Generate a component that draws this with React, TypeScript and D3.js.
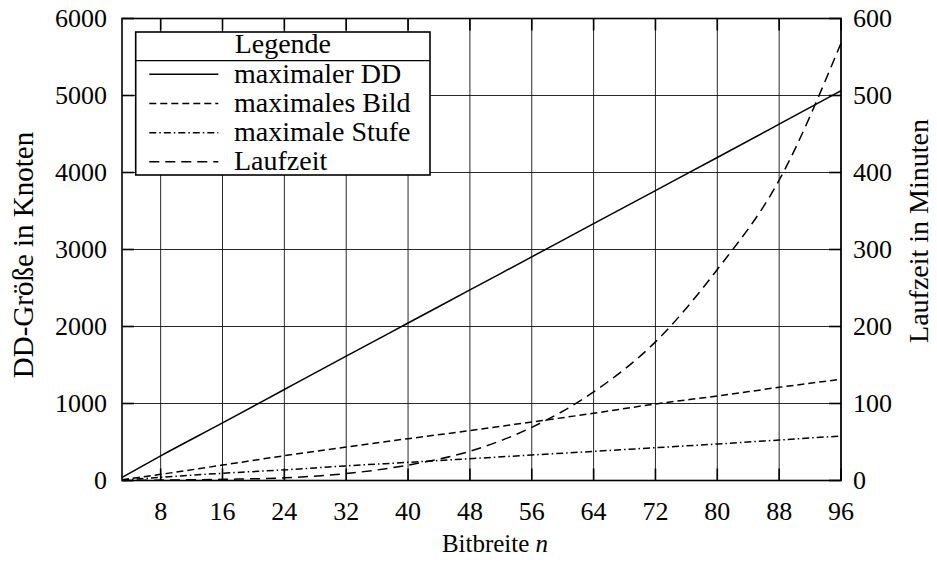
import React, { useEffect } from "react";
import * as d3 from "d3";

const bitwidths = [3, 8, 16, 24, 32, 40, 48, 56, 64, 72, 80, 88, 96];
const maxDD = [40, 320, 748, 1182, 1615, 2045, 2475, 2905, 3335, 3765, 4195, 4628, 5062];
const maxBild = [10, 80, 200, 322, 435, 543, 648, 760, 873, 994, 1097, 1210, 1314];
const maxStufe = [5, 42, 94, 138, 190, 236, 283, 331, 378, 426, 474, 526, 578];
const laufzeit = [0, 0.5, 1.5, 3.5, 9, 20, 38, 69, 115, 180, 274, 390, 568];

const xTicks = [8, 16, 24, 32, 40, 48, 56, 64, 72, 80, 88, 96];
const yLeftTicks = [0, 1000, 2000, 3000, 4000, 5000, 6000];
const yRightTicks = [0, 100, 200, 300, 400, 500, 600];

const legendItems = ["maximaler DD", "maximales Bild", "maximale Stufe", "Laufzeit"];

const W = 937;
const H = 566;
const M = { left: 122, right: 841, top: 18.5, bottom: 480.5 };
const FONT = "'Liberation Serif', 'DejaVu Serif', 'Times New Roman', serif";

const dashStyles = ["", "7 4", "7 3 1.5 3", "10 6"];

const st = (size: number) => ({ fontFamily: FONT, fontSize: size } as React.CSSProperties);

export default function App() {
  useEffect(() => {
    document.body.style.margin = "0";
  }, []);

  const x = d3.scaleLinear().domain([3, 96]).range([M.left, M.right]);
  const yL = d3.scaleLinear().domain([0, 6000]).range([M.bottom, M.top]);
  const yR = d3.scaleLinear().domain([0, 600]).range([M.bottom, M.top]);

  const lineL = d3
    .line<number>()
    .x((_, i) => x(bitwidths[i]))
    .y((d) => yL(d))
    .curve(d3.curveMonotoneX);
  const lineR = d3
    .line<number>()
    .x((_, i) => x(bitwidths[i]))
    .y((d) => yR(d))
    .curve(d3.curveMonotoneX);

  const series = [
    { d: lineL(maxDD), dash: dashStyles[0] },
    { d: lineL(maxBild), dash: dashStyles[1] },
    { d: lineL(maxStufe), dash: dashStyles[2] },
    { d: lineR(laufzeit), dash: dashStyles[3] },
  ];

  const lg = { x0: 135.7, x1: 430, y0: 32, y1: 175, sep: 60.7 };
  const entryY = [74.3, 103.5, 132.7, 161.7];

  return (
    <svg width={W} height={H} style={{ display: "block", background: "#fff", fontFamily: FONT }}>
      <rect x={0} y={0} width={W} height={H} fill="#fff" />
      <g stroke="#111" strokeWidth={0.9}>
        {xTicks.map((t) => (
          <line key={"gx" + t} x1={x(t)} x2={x(t)} y1={M.top} y2={M.bottom} />
        ))}
        {yLeftTicks.map((t) => (
          <line key={"gy" + t} x1={M.left} x2={M.right} y1={yL(t)} y2={yL(t)} />
        ))}
      </g>
      <g stroke="#000" strokeWidth={1.6}>
        {xTicks.map((t) => (
          <g key={"tx" + t}>
            <line x1={x(t)} x2={x(t)} y1={M.bottom} y2={M.bottom - 12} />
            <line x1={x(t)} x2={x(t)} y1={M.top} y2={M.top + 12} />
          </g>
        ))}
        {yLeftTicks.map((t) => (
          <line key={"tl" + t} x1={M.left} x2={M.left + 12} y1={yL(t)} y2={yL(t)} />
        ))}
        {yRightTicks.map((t) => (
          <line key={"tr" + t} x1={M.right} x2={M.right - 12} y1={yR(t)} y2={yR(t)} />
        ))}
      </g>
      <g fill="none" stroke="#000" strokeWidth={1.5}>
        {series.map((s, i) => (
          <path key={"s" + i} d={s.d || ""} strokeDasharray={s.dash || undefined} />
        ))}
      </g>
      <rect
        x={M.left}
        y={M.top}
        width={M.right - M.left}
        height={M.bottom - M.top}
        fill="none"
        stroke="#000"
        strokeWidth={1.6}
      />
      <g fill="#000">
        {xTicks.map((t) => (
          <text key={"lx" + t} x={x(t)} y={519.5} textAnchor="middle" style={st(26)}>
            {t}
          </text>
        ))}
        {yLeftTicks.map((t) => (
          <text key={"ll" + t} x={107} y={yL(t)} dy="0.34em" textAnchor="end" style={st(26)}>
            {t}
          </text>
        ))}
        {yRightTicks.map((t) => (
          <text key={"lr" + t} x={853} y={yR(t)} dy="0.34em" textAnchor="start" style={st(26)}>
            {t}
          </text>
        ))}
      </g>
      <text x={495} y={552} textAnchor="middle" style={st(25)}>
        Bitbreite <tspan fontStyle="italic">n</tspan>
      </text>
      <text transform="translate(33,255) rotate(-90)" textAnchor="middle" style={st(29)}>
        DD-Größe in Knoten
      </text>
      <text transform="translate(928,231) rotate(-90)" textAnchor="middle" style={st(28)}>
        Laufzeit in Minuten
      </text>
      <g>
        <rect
          x={lg.x0}
          y={lg.y0}
          width={lg.x1 - lg.x0}
          height={lg.y1 - lg.y0}
          fill="#fff"
          stroke="#000"
          strokeWidth={1.6}
        />
        <line x1={lg.x0} x2={lg.x1} y1={lg.sep} y2={lg.sep} stroke="#000" strokeWidth={1.2} />
        <text x={(lg.x0 + lg.x1) / 2} y={52.7} textAnchor="middle" style={st(28)}>
          Legende
        </text>
        {legendItems.map((name, i) => (
          <g key={"lg" + i}>
            <line
              x1={149.3}
              x2={218.3}
              y1={entryY[i]}
              y2={entryY[i]}
              stroke="#000"
              strokeWidth={1.5}
              strokeDasharray={dashStyles[i] || undefined}
            />
            <text x={234} y={entryY[i] + 8.5} style={st(28)}>
              {name}
            </text>
          </g>
        ))}
      </g>
    </svg>
  );
}
